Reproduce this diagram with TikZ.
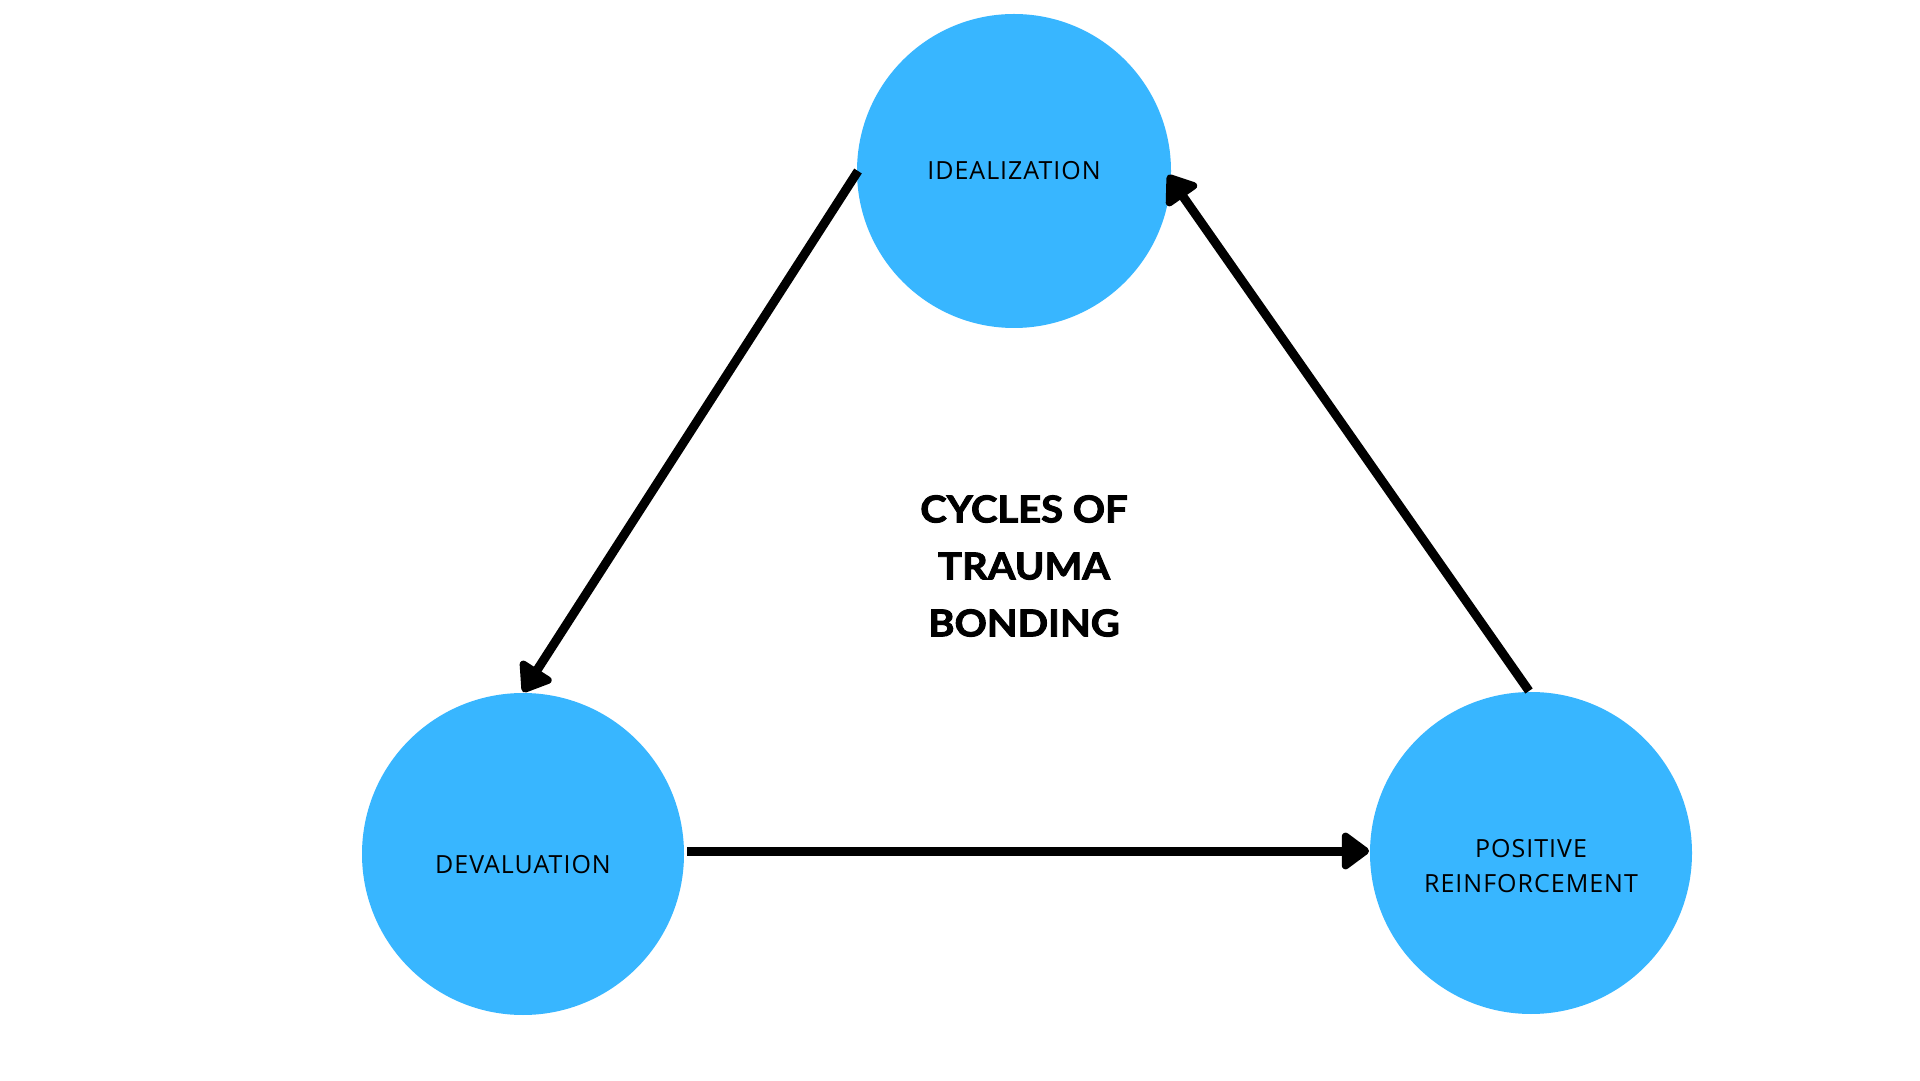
\documentclass[tikz,border=0pt]{standalone}
\usepackage{fontspec}
\setmainfont{Open Sans}[LetterSpace=4]
\newfontfamily\titlefont[FakeBold=2.5,FakeStretch=1.08]{Lato}
\usetikzlibrary{arrows.meta}
\definecolor{cblue}{HTML}{38B6FF}
\begin{document}
\begin{tikzpicture}[x=1pt,y=1pt,
  stage/.style={circle,fill=cblue,minimum size=322pt,inner sep=0pt},
  lbl/.style={font=\fontsize{25}{35}\selectfont,align=center,text=black},
  conn/.style={line width=9pt,-{Triangle[round,length=30pt,width=42pt]}}]
\useasboundingbox (0,0) rectangle (1920,1080);
\fill[white] (0,0) rectangle (1920,1080);
\node[stage,minimum size=314pt] (ide) at (1014,909) {};
\node[stage] (dev) at (523,226) {};
\node[stage] (pos) at (1531,227) {};
\node[lbl] (idel) at (1014,909) {IDEALIZATION};
\node[lbl] (devl) at (523,215) {DEVALUATION};
\node[lbl] (posl) at (1531,214) {POSITIVE\\REINFORCEMENT};
\node[font=\titlefont\bfseries\fontsize{37}{57}\selectfont,align=center] (title) at (1024,514) {CYCLES OF\\TRAUMA\\BONDING};
\coordinate (a1) at (858,909);
\coordinate (b1) at (523,388);
\coordinate (a2) at (687,229);
\coordinate (b2) at (1369,229);
\coordinate (a3) at (1529,389);
\coordinate (b3) at (1168,905);
\draw[conn] (a1) -- (b1);
\draw[conn] (a2) -- (b2);
\draw[conn] (a3) -- (b3);
\end{tikzpicture}
\end{document}
